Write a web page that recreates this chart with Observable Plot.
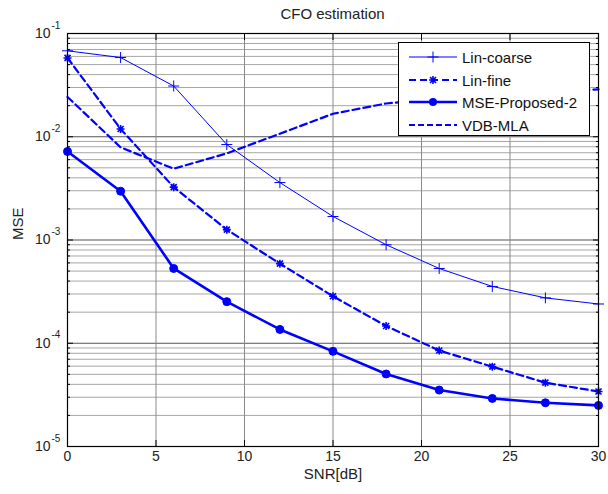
<!DOCTYPE html>
<html><head><meta charset="utf-8">
<script src="https://cdn.jsdelivr.net/npm/d3@7"></script>
<script src="https://cdn.jsdelivr.net/npm/@observablehq/plot@0.6"></script>
<style>
body{margin:0;background:#fff;font-family:"Liberation Sans",Arial,sans-serif;}
#wrap{position:relative;width:608px;height:494px;}
#title{height:14px;line-height:28px;font-size:15px;color:#222;text-align:center;padding-left:57px;width:551px;box-sizing:content-box;overflow:visible;position:relative;z-index:1;}
#legend{position:absolute;left:398px;top:42px;width:192px;height:94px;background:#fff;border:1px solid #000;box-sizing:border-box;font-size:15px;color:#111;}
#legend .row{position:absolute;left:10px;height:20px;display:flex;align-items:center;}
#legend svg{display:block;}
#legend span{margin-left:5px;}
</style></head>
<body><div id="wrap"><div id="title">CFO estimation</div><div id="chart"></div><div id="legend"></div></div>
<script>
const snr = [0, 3, 6, 9, 12, 15, 18, 21, 24, 27, 30];
const linCoarse = [0.068, 0.0585, 0.031, 0.0084, 0.0036, 0.00169, 0.0009, 0.00053, 0.000355, 0.000275, 0.00024];
const linFine = [0.058, 0.0119, 0.00325, 0.00126, 0.00059, 0.000285, 0.000147, 0.000085, 0.0000593, 0.0000415, 0.0000341];
const proposed2 = [0.0072, 0.00297, 0.00053, 0.000253, 0.000136, 0.0000835, 0.0000504, 0.0000352, 0.0000292, 0.0000265, 0.000025];
const vdbMla = [0.0243, 0.0079, 0.0049, 0.0069, 0.0107, 0.0167, 0.021, 0.0235, 0.026, 0.028, 0.0287];
const seriesNames = ["Lin-coarse", "Lin-fine", "MSE-Proposed-2", "VDB-MLA"];
const xTicks = [0, 5, 10, 15, 20, 25, 30];
const decades = [1e-5, 1e-4, 1e-3, 1e-2, 1e-1];

const minorTicks = [];
for (let k = -5; k <= -2; k++) for (let m = 2; m <= 9; m++) minorTicks.push(m * Math.pow(10, k));

const rows = snr.map((x, i) => ({x, coarse: linCoarse[i], fine: linFine[i], prop: proposed2[i], vdb: vdbMla[i]}));

const blue = "#0000ff";
const plusSym = {draw(ctx, size){const r = Math.sqrt(size / Math.PI); ctx.moveTo(-r,0); ctx.lineTo(r,0); ctx.moveTo(0,-r); ctx.lineTo(0,r);}};
const starSym = {draw(ctx, size){const r = Math.sqrt(size / Math.PI); const d = r*0.75; ctx.moveTo(-r,0); ctx.lineTo(r,0); ctx.moveTo(0,-r); ctx.lineTo(0,r); ctx.moveTo(-d,-d); ctx.lineTo(d,d); ctx.moveTo(-d,d); ctx.lineTo(d,-d);}};

const font = "Liberation Sans, Arial, sans-serif";
const chart = Plot.plot({
  width: 608, height: 480,
  marginLeft: 67, marginRight: 10, marginTop: 19, marginBottom: 48,
  style: {fontFamily: font, background: "transparent"},
  x: {domain: [0, 30], axis: null},
  y: {type: "log", domain: [1e-5, 1e-1], axis: null},
  marks: [
    Plot.ruleY(minorTicks, {y: d => d, stroke: "#a6a6a6", strokeWidth: 1}),
    Plot.ruleY(decades, {y: d => d, stroke: "#555", strokeWidth: 1}),
    Plot.ruleX(xTicks.slice(1, -1), {x: d => d, stroke: "#8a8a8a", strokeWidth: 1}),
    Plot.axisY({anchor: "left", ticks: decades, tickSize: -6, tickFormat: () => "", label: null, stroke: "#000"}),
    Plot.axisY({anchor: "left", ticks: minorTicks, tickSize: -3, tickFormat: () => "", label: null, stroke: "#000"}),
    Plot.axisY({anchor: "right", ticks: decades, tickSize: -6, tickFormat: () => "", label: null, stroke: "#000"}),
    Plot.axisY({anchor: "right", ticks: minorTicks, tickSize: -3, tickFormat: () => "", label: null, stroke: "#000"}),
    Plot.axisX({anchor: "bottom", ticks: xTicks, tickSize: -6, tickFormat: () => "", label: null, stroke: "#000"}),
    Plot.axisX({anchor: "top", ticks: xTicks, tickSize: -6, tickFormat: () => "", label: null, stroke: "#000"}),
    Plot.lineY(rows, {x: "x", y: "vdb", stroke: blue, strokeWidth: 2.2, strokeDasharray: "7,4"}),
    Plot.lineY(rows, {x: "x", y: "coarse", stroke: blue, strokeWidth: 1}),
    Plot.dot(rows, {x: "x", y: "coarse", symbol: plusSym, r: 5.5, fill: "none", stroke: blue, strokeWidth: 1}),
    Plot.lineY(rows, {x: "x", y: "fine", stroke: blue, strokeWidth: 2.2, strokeDasharray: "7,4"}),
    Plot.dot(rows, {x: "x", y: "fine", symbol: starSym, r: 4, fill: "none", stroke: blue, strokeWidth: 1.6}),
    Plot.lineY(rows, {x: "x", y: "prop", stroke: blue, strokeWidth: 2.6}),
    Plot.dot(rows, {x: "x", y: "prop", r: 4, fill: blue, stroke: blue, strokeWidth: 1}),
    Plot.frame({stroke: "#000", strokeWidth: 1.2}),
    Plot.text(xTicks, {x: d => d, frameAnchor: "bottom", dy: 14, text: d => String(d), fontSize: 14, fill: "#222"}),
    Plot.text(decades, {y: d => d, frameAnchor: "left", dx: -17, text: () => "10", textAnchor: "end", fontSize: 14, fill: "#222"}),
    Plot.text(decades, {y: d => d, frameAnchor: "left", dx: -16, dy: -8, text: d => String(Math.round(Math.log10(d))), textAnchor: "start", fontSize: 10, fill: "#222"}),
    Plot.text(["SNR[dB]"], {frameAnchor: "bottom", dy: 32, fontSize: 15, fill: "#222"}),
    Plot.text(["MSE"], {frameAnchor: "left", dx: -49, rotate: -90, fontSize: 15, fill: "#222"})
  ]
});
document.getElementById("chart").appendChild(chart);

// legend
const legendStyles = [
  {w: 1, dash: null, marker: "plus"},
  {w: 2.2, dash: "7,4", marker: "star"},
  {w: 2.6, dash: null, marker: "dot"},
  {w: 2.2, dash: "6,3", marker: null}
];
const rowTops = [4, 27, 49, 72];
const leg = document.getElementById("legend");
seriesNames.forEach((name, i) => {
  const s = legendStyles[i];
  const row = document.createElement("div");
  row.className = "row";
  row.style.top = rowTops[i] + "px";
  const svg = d3.create("svg").attr("width", 48).attr("height", 20);
  svg.append("line").attr("x1", 0).attr("x2", 48).attr("y1", 10).attr("y2", 10)
    .attr("stroke", blue).attr("stroke-width", s.w).attr("stroke-dasharray", s.dash);
  if (s.marker === "plus") svg.append("path").attr("d", "M18.5,10H29.5M24,4.5V15.5").attr("stroke", blue).attr("stroke-width", 1);
  if (s.marker === "star") svg.append("path").attr("d", "M20,10H28M24,6V14M21,7L27,13M21,13L27,7").attr("stroke", blue).attr("stroke-width", 1.6);
  if (s.marker === "dot") svg.append("circle").attr("cx", 24).attr("cy", 10).attr("r", 4).attr("fill", blue);
  row.appendChild(svg.node());
  const t = document.createElement("span");
  t.textContent = name;
  row.appendChild(t);
  leg.appendChild(row);
});
</script>
</body></html>
